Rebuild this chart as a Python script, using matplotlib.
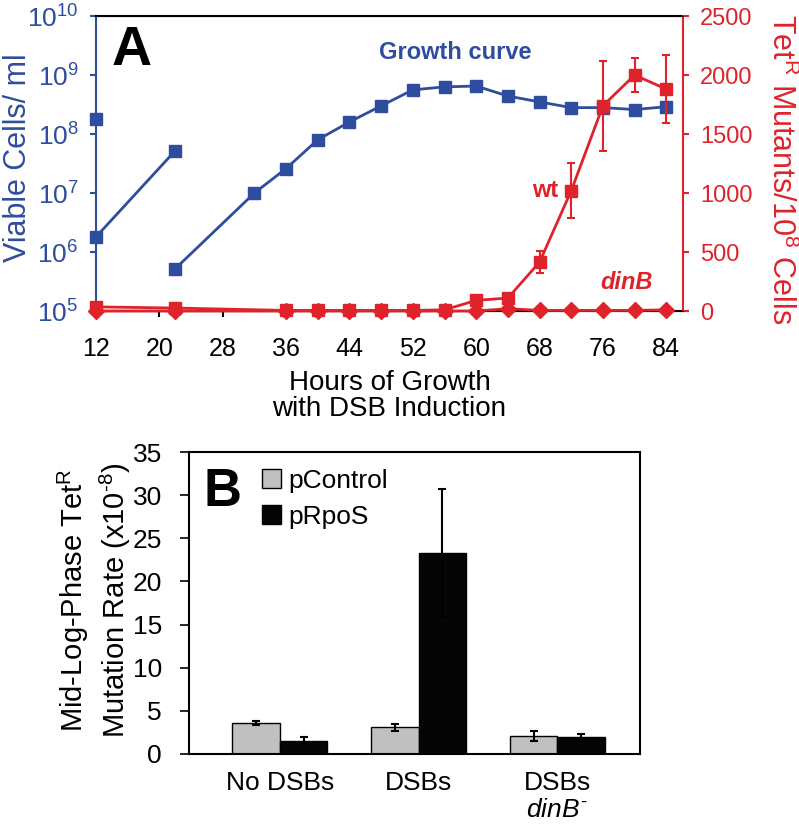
import matplotlib
matplotlib.use("Agg")
import matplotlib.pyplot as plt
from matplotlib.ticker import NullLocator
import numpy as np

plt.rcParams["font.family"] = "Liberation Sans"
plt.rcParams["mathtext.fontset"] = "custom"
plt.rcParams["mathtext.rm"] = "Liberation Sans"
plt.rcParams["mathtext.it"] = "Liberation Sans:italic"
plt.rcParams["mathtext.bf"] = "Liberation Sans:bold"

BLUE = "#2E4D9F"
RED = "#E0232B"

# =========================
# Panel A data
# =========================
hours_start = [12]
cells_start = [1.8e8]
hours_first = [12, 22]
cells_first = [1.8e6, 5.2e7]
hours_growth = [22, 32, 36, 40, 44, 48, 52, 56, 60, 64, 68, 72, 76, 80, 84]
cells_growth = [5.2e5, 1.0e7, 2.6e7, 8.0e7, 1.6e8, 3.0e8, 5.6e8, 6.3e8,
                6.5e8, 4.4e8, 3.5e8, 2.8e8, 2.8e8, 2.6e8, 2.9e8]

hours_mut = [12, 22, 36, 40, 44, 48, 52, 56, 60, 64, 68, 72, 76, 80, 84]
wt_mut = [35, 25, 5, 5, 5, 5, 5, 10, 90, 110, 415, 1020, 1740, 2000, 1880]
wt_err = [0, 0, 0, 0, 0, 0, 0, 0, 0, 0, 90, 235, 380, 145, 290]
dinb_mut = [0, 0, 0, 0, 0, 0, 0, 0, 0, 20, 5, 5, 5, 5, 10]

hour_ticks = [12, 20, 28, 36, 44, 52, 60, 68, 76, 84]
cell_ticks = [1e5, 1e6, 1e7, 1e8, 1e9, 1e10]
cell_labels = ["$10^{5}$", "$10^{6}$", "$10^{7}$", "$10^{8}$", "$10^{9}$", "$10^{10}$"]
mut_ticks = [0, 500, 1000, 1500, 2000, 2500]

# =========================
# Panel B data
# =========================
groups = ["No DSBs", "DSBs", "DSBs\n$\\mathit{dinB}^{\\text{-}}$"]
pcontrol = [3.55, 3.08, 2.09]
pcontrol_err = [0.23, 0.42, 0.58]
prpos = [1.55, 23.26, 1.93]
prpos_err = [0.38, 7.4, 0.42]

fig = plt.figure(figsize=(7.99, 8.30), dpi=100)

# =========================
# Panel A
# =========================
ax1 = fig.add_axes([0.1201, 0.6253, 0.7347, 0.3554])
ax1.set_yscale("log")
ax1.plot(hours_start, cells_start, "s", color=BLUE, ms=9, clip_on=False, zorder=3)
ax1.plot(hours_first, cells_first, "-s", color=BLUE, ms=9, lw=2, clip_on=False, zorder=3)
ax1.plot(hours_growth, cells_growth, "-s", color=BLUE, ms=9, lw=2, clip_on=False, zorder=3)
ax1.set_xlim(12, 86.1)
ax1.set_ylim(1e5, 1e10)
ax1.set_yticks(cell_ticks)
ax1.set_yticklabels(cell_labels)
ax1.yaxis.set_minor_locator(NullLocator())
ax1.set_xticks(hour_ticks)
ax1.tick_params(axis="y", colors=BLUE, labelsize=19, direction="out", length=4.5, width=1.5, pad=8)
ax1.tick_params(axis="x", colors="black", labelsize=18, direction="out", length=4.5, width=1.5, pad=14)
ax1.spines["left"].set_color(BLUE)
ax1.spines["right"].set_visible(False)
for s in ["left", "top", "bottom"]:
    ax1.spines[s].set_linewidth(1.5)
ax1.set_ylabel("Viable Cells/ ml", color=BLUE, fontsize=22)
ax1.yaxis.set_label_coords(-0.107, 0.52)
ax1.set_xlabel("Hours of Growth\nwith DSB Induction", fontsize=20, linespacing=1.0)
ax1.xaxis.set_label_coords(0.5, -0.2)
ax1.xaxis.label.set_va("top")

ax1r = ax1.twinx()
ax1r.errorbar(hours_mut, wt_mut, yerr=wt_err, fmt="-s", color=RED, ms=9, lw=2,
              elinewidth=1.5, capsize=3, capthick=1.5, clip_on=False, zorder=4)
ax1r.plot(hours_mut, dinb_mut, "-D", color=RED, ms=8, lw=2, clip_on=False, zorder=4)
ax1r.set_ylim(0, 2500)
ax1r.set_yticks(mut_ticks)
ax1r.tick_params(axis="y", colors=RED, labelsize=17, direction="out", length=4.5, width=1.5, pad=8)
ax1r.spines["right"].set_color(RED)
ax1r.spines["right"].set_linewidth(1.5)
ax1r.spines["left"].set_visible(False)
ax1r.set_ylabel("Tet$^{\\mathregular{R}}$ Mutants/10$^{\\mathregular{8}}$ Cells",
                color=RED, fontsize=22, rotation=270, va="center")
ax1r.yaxis.set_label_coords(1.167, 0.48)

ax1.text(0.061, 0.88, "A", transform=ax1.transAxes, fontsize=40, fontweight="bold",
         ha="center", va="center")
ax1.text(0.612, 0.875, "Growth curve", transform=ax1.transAxes, fontsize=17,
         fontweight="bold", color=BLUE, ha="center", va="center")
ax1.text(0.765, 0.41, "wt", transform=ax1.transAxes, fontsize=17,
         fontweight="bold", color=RED, ha="center", va="center")
ax1.text(0.903, 0.095, "dinB", transform=ax1.transAxes, fontsize=17,
         fontweight="bold", style="italic", color=RED, ha="center", va="center")

# =========================
# Panel B
# =========================
ax2 = fig.add_axes([0.2365, 0.0916, 0.5645, 0.3638])
x = np.arange(len(groups))
w = 0.343
ax2.bar(x - w / 2, pcontrol, w, color="#C0C0C0", edgecolor="black", lw=1, label="pControl")
ax2.bar(x + w / 2, prpos, w, color="#050505", edgecolor="black", lw=1, label="pRpoS")
ax2.errorbar(x - w / 2, pcontrol, yerr=pcontrol_err, fmt="none", ecolor="black",
             elinewidth=1.5, capsize=3, capthick=1.5)
ax2.errorbar(x + w / 2, prpos, yerr=prpos_err, fmt="none", ecolor="black",
             elinewidth=1.5, capsize=3, capthick=1.5)
ax2.set_xlim(-0.655, 2.596)
ax2.set_ylim(0, 35)
ax2.set_yticks(range(0, 36, 5))
ax2.set_xticks(x)
ax2.set_xticklabels(groups)
ax2.tick_params(axis="y", labelsize=19, direction="out", length=6.5, width=1.2, pad=13)
ax2.tick_params(axis="x", labelsize=19, length=0, pad=12)
for s in ax2.spines.values():
    s.set_linewidth(1.5)
ax2.set_ylabel("Mid-Log-Phase Tet$^{\\mathregular{R}}$\nMutation Rate (x10$^{\\text{-8}}$)",
               fontsize=21, linespacing=1.25)
ax2.yaxis.set_label_coords(-0.125, 0.51)
ax2.legend(loc="upper left", bbox_to_anchor=(0.162, 0.945), frameon=False, fontsize=19,
           handlelength=0.7, handleheight=0.7, handletextpad=0.3, labelspacing=0.45,
           borderpad=0, borderaxespad=0)
ax2.text(0.075, 0.868, "B", transform=ax2.transAxes, fontsize=38, fontweight="bold",
         ha="center", va="center")

fig.savefig("out.png", dpi=100)
